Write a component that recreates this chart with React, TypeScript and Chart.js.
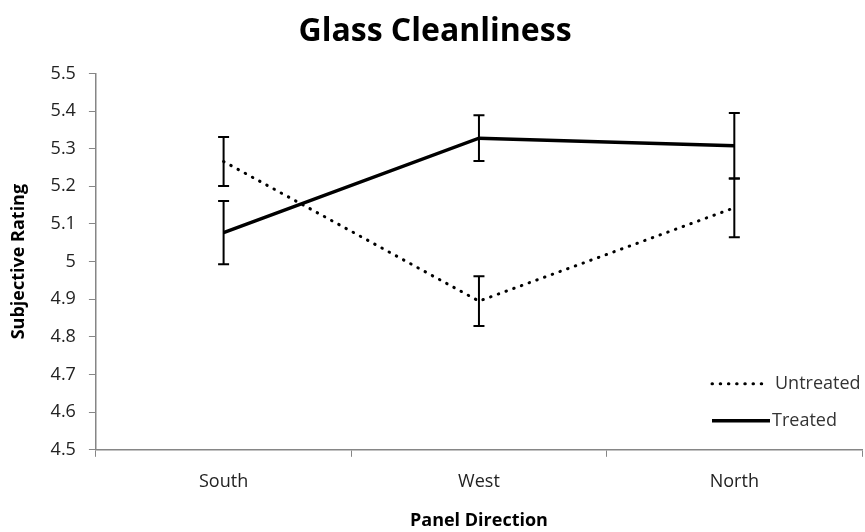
import React, { useEffect, useRef } from "react";
import { Chart, registerables } from "chart.js";

Chart.register(...registerables);

const categories = ["South", "West", "North"];
const untreated = [5.266, 4.895, 5.143];
const untreatedErr = [0.065, 0.066, 0.078];
const treated = [5.077, 5.328, 5.308];
const treatedErr = [0.084, 0.061, 0.087];
const yTicks = [4.5, 4.6, 4.7, 4.8, 4.9, 5.0, 5.1, 5.2, 5.3, 5.4, 5.5];

const FONT = "'Open Sans', 'DejaVu Sans', sans-serif";

const errorBarPlugin = {
  id: "errorBars",
  afterDatasetsDraw(chart: any) {
    const ctx = chart.ctx;
    const ys = chart.scales.y;
    const errs = [untreatedErr, treatedErr];
    chart.data.datasets.forEach((ds: any, i: number) => {
      const meta = chart.getDatasetMeta(i);
      meta.data.forEach((pt: any, j: number) => {
        const v = ds.data[j];
        const e = errs[i][j];
        const x = pt.x;
        const yTop = ys.getPixelForValue(v + e);
        const yBot = ys.getPixelForValue(v - e);
        ctx.save();
        ctx.strokeStyle = "#000";
        ctx.lineWidth = 2;
        ctx.beginPath();
        ctx.moveTo(x, yTop);
        ctx.lineTo(x, yBot);
        ctx.moveTo(x - 5.5, yTop);
        ctx.lineTo(x + 5.5, yTop);
        ctx.moveTo(x - 5.5, yBot);
        ctx.lineTo(x + 5.5, yBot);
        ctx.stroke();
        ctx.restore();
      });
    });
  },
};

const legendPlugin = {
  id: "insideLegend",
  afterDraw(chart: any) {
    const ctx = chart.ctx;
    const area = chart.chartArea;
    const x0 = area.right - 150;
    const rows = [area.bottom - 66, area.bottom - 29];
    chart.data.datasets.forEach((ds: any, i: number) => {
      const y = rows[i];
      ctx.save();
      ctx.strokeStyle = ds.borderColor;
      ctx.lineWidth = ds.borderWidth;
      ctx.lineCap = ds.borderCapStyle || "butt";
      ctx.setLineDash(ds.borderDash || []);
      ctx.beginPath();
      ctx.moveTo(x0, y);
      ctx.lineTo(x0 + (i === 0 ? 53 : 58), y);
      ctx.stroke();
      ctx.setLineDash([]);
      ctx.fillStyle = "#333";
      ctx.font = `18px ${FONT}`;
      ctx.textBaseline = "middle";
      ctx.textAlign = "left";
      ctx.fillText(ds.label, x0 + (i === 0 ? 63 : 60), y);
      ctx.restore();
    });
  },
};

export default function App() {
  const ref = useRef<HTMLCanvasElement>(null);
  useEffect(() => {
    document.body.style.margin = "0";
    const chart = new Chart(ref.current!, {
      type: "line",
      data: {
        labels: categories,
        datasets: [
          {
            label: "Untreated",
            data: untreated,
            borderColor: "#000",
            borderWidth: 3,
            borderDash: [0.5, 7.7],
            borderCapStyle: "round",
            pointRadius: 0,
            fill: false,
          },
          {
            label: "Treated",
            data: treated,
            borderColor: "#000",
            borderWidth: 3.5,
            pointRadius: 0,
            fill: false,
          },
        ],
      },
      options: {
        responsive: false,
        animation: false,
        layout: { padding: { left: 8, right: 3, top: 13, bottom: 0 } },
        plugins: {
          legend: { display: false },
          tooltip: { enabled: false },
          title: {
            display: true,
            text: "Glass Cleanliness",
            color: "#000",
            font: { family: FONT, size: 32, weight: "bold" },
            padding: { top: 0, bottom: 22 },
          },
        },
        scales: {
          x: {
            offset: true,
            grid: {
              offset: true,
              drawOnChartArea: false,
              drawTicks: true,
              tickLength: 7,
              color: "#868686",
            },
            border: { color: "#868686", width: 1.5 },
            ticks: {
              color: "#222",
              font: { family: FONT, size: 18 },
              padding: 14,
            },
            title: {
              display: true,
              text: "Panel Direction",
              color: "#000",
              font: { family: FONT, size: 18, weight: "bold" },
              padding: { top: 4, bottom: 0 },
            },
          },
          y: {
            min: 4.5,
            max: 5.5,
            afterBuildTicks: (axis: any) => {
              axis.ticks = yTicks.map((v) => ({ value: v }));
            },
            grid: {
              drawOnChartArea: false,
              drawTicks: true,
              tickLength: 7,
              color: "#868686",
            },
            border: { color: "#868686", width: 1.5 },
            ticks: {
              color: "#222",
              font: { family: FONT, size: 18 },
              padding: 13,
              callback: (v: any) => String(Number(Number(v).toFixed(1))),
            },
            title: {
              display: true,
              text: "Subjective Rating",
              color: "#000",
              font: { family: FONT, size: 18, weight: "bold" },
              padding: { top: 0, bottom: 8 },
            },
          },
        },
      },
      plugins: [errorBarPlugin, legendPlugin],
    });
    return () => chart.destroy();
  }, []);
  return (
    <div style={{ width: 865, height: 532, background: "#fff" }}>
      <canvas ref={ref} width={865} height={532} />
    </div>
  );
}
